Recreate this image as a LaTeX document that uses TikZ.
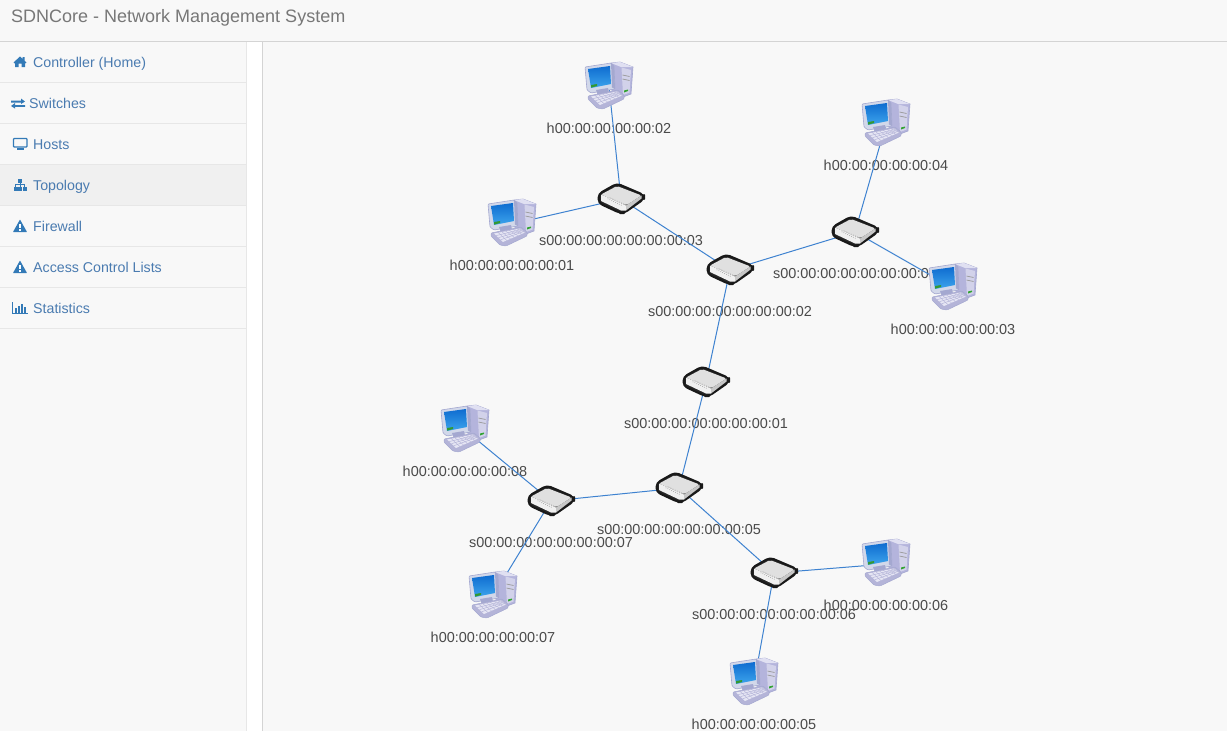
\documentclass[tikz,border=0pt]{standalone}
\usepackage{fontspec}
\setmainfont{Liberation Sans}
\definecolor{bgc}{HTML}{F8F8F8}
\definecolor{linec}{HTML}{E7E7E7}
\definecolor{bordc}{HTML}{D4D4D4}
\definecolor{navc}{HTML}{4A7BB0}
\definecolor{icoc}{HTML}{337AB7}
\definecolor{headc}{HTML}{777777}
\definecolor{linkc}{HTML}{3E82D0}
\definecolor{labc}{HTML}{4A4A4A}
\definecolor{towerc}{HTML}{B4B4DC}
\definecolor{towerl}{HTML}{E0E0F2}
\definecolor{towerf}{HTML}{D2D2EA}
\definecolor{monc}{HTML}{D2D8EA}
\definecolor{mond}{HTML}{A4A8D0}
\definecolor{scrt}{HTML}{0F6CD0}
\definecolor{scrb}{HTML}{3CA4EC}
\definecolor{keyc}{HTML}{B4B4D8}
\definecolor{keyl}{HTML}{E6E6F4}
\tikzset{
 x=1pt,y=-1pt,
 anchorpt/.style={inner sep=0pt,minimum size=0pt},
 lab/.style={font=\fontsize{14.45}{16}\selectfont,text=labc,inner sep=0pt,anchor=base},
 navtext/.style={font=\fontsize{14.2}{16}\selectfont,text=navc,inner sep=0pt,anchor=base west},
 headt/.style={font=\fontsize{18}{20}\selectfont,text=headc,inner sep=0pt,anchor=base west},
 link/.style={draw=linkc,line width=1pt},
 sep/.style={draw=linec,line width=1pt},
 ico/.style={fill=icoc,draw=none},
 pics/swicon/.style={code={
  \filldraw[fill=black!85,draw=black!90,line width=2pt,rounded corners=4pt,line join=round] (-22.5,-5)--(-4,-15.5)--(23,-4)--(23,0)--(3,14)--(-1,14)--(-22.5,4)--cycle;
  \fill[white!88!black,rounded corners=2pt] (-20,-4.5)--(-4,-13)--(20.5,-3.5)--(5,6.5)--cycle;
  \fill[white!94!black] (-20,-4.5)--(5,6.5)--(5,11.5)--(0,11.5)--(-20,2)--cycle;
  \fill[white!78!black] (5,6.5)--(20.5,-3.5)--(20.5,-.5)--(5,11.5)--cycle;
  \foreach \i in {0,...,7}{\fill[black!35] (-13+\i*1.9,-.2+\i*.9) circle(.5);\fill[black!35] (-11+\i*1.9,-1.5+\i*.9) circle(.45);}
 }},
 pics/hosticon/.style={code={
  % tower
  \filldraw[fill=towerc,draw=mond,line width=.6pt] (2,-24)--(11,-25)--(24,-20)--(22,7)--(14,10)--(3,6)--cycle;
  \fill[towerl] (2,-24)--(11,-25)--(24,-20)--(12,-20)--cycle;
  \fill[towerf] (12.5,-19.5)--(22,-17)--(20.5,5.5)--(14,8)--cycle;
  \draw[black!40,line width=.7pt] (13.5,-12)--(20.5,-10.5) (13.5,-8)--(20.5,-6.5);
  \fill[green!55!black!80] (15,3.5)--(19,2.5)--(19,4)--(15,5.5)--cycle;
  % monitor
  \filldraw[fill=monc,draw=mond,line width=.6pt,rounded corners=1pt] (-24,-20)--(2,-24)--(5,-21)--(6,2)--(-18,6)--(-22,3)--cycle;
  \fill[mond] (2,-24)--(5,-21)--(6,2)--(3,.5)--cycle;
  \shade[top color=scrt,bottom color=scrb] (-21,-18)--(1,-21)--(2,-3)--(-18,1)--cycle;
  \fill[green!50!black!80] (-18,-2)--(-12,-3)--(-12,-1)--(-18,.7)--cycle;
  % stand
  \fill[mond] (-13,3)--(-1,1)--(0,6)--(-11,9)--cycle;
  % keyboard
  \filldraw[fill=keyc,draw=mond,line width=.5pt,rounded corners=1pt] (-21,9)--(9,3)--(15,8)--(15,12)--(-6,22)--(-12,21)--(-21,12)--cycle;
  \fill[keyl] (-18,9.5)--(8,4.5)--(13,8.5)--(-9,18)--cycle;
  \foreach \i in {1,2,3}{\draw[keyc,line width=.5pt] (-18+\i*2.2,9.5+\i*2.1)--(8+\i*1.25,4.5+\i*1);}
  \foreach \i in {1,...,6}{\draw[keyc,line width=.4pt] (-18+\i*3.7,8.8+\i*-.7)--(-9+\i*3.7,18+\i*-1.6);}
 }},
}
\begin{document}
\begin{tikzpicture}
\useasboundingbox (0,0) rectangle (1227,731);
\fill[white] (0,0) rectangle (1227,731);
\fill[bgc] (0,0) rectangle (1227,41);
\fill[bgc] (0,42) rectangle (246,731);
\fill[bgc] (263,42) rectangle (1227,731);
\fill[black!6] (0,165) rectangle (246,205);
\draw[bordc,line width=1pt] (0,41.5)--(1227,41.5);
\draw[linec,line width=1pt] (246.5,42)--(246.5,731);
\draw[bordc,line width=1pt] (262.5,42)--(262.5,731);
\foreach \yy in {82.5,123.5,164.5,205.5,246.5,287.5,328.5}{\draw[sep] (0,\yy)--(246,\yy);}
\node[headt] (title) at (11,22) {SDNCore - Network Management System};
\node[navtext] (n1) at (33,67) {Controller (Home)};
\node[navtext] (n2) at (29,108) {Switches};
\node[navtext] (n3) at (33,149) {Hosts};
\node[navtext] (n4) at (33,190) {Topology};
\node[navtext] (n5) at (33,231) {Firewall};
\node[navtext] (n6) at (33,272) {Access Control Lists};
\node[navtext] (n7) at (33,313) {Statistics};
% nav icons
\fill[ico] (13.5,62.5)--(20,56.5)--(22.5,58.8)--(22.5,57)--(24.5,57)--(24.5,60.6)--(26.5,62.5)--(25,63.5)--(25,67)--(21.5,67)--(21.5,63.5)--(18.5,63.5)--(18.5,67)--(15,67)--(15,63.5)--cycle;
\fill[ico] (11,100.5)--(21,100.5)--(21,98.5)--(25,101.5)--(21,104)--(21,102.5)--(11,102.5)--cycle;
\fill[ico] (25,105)--(15,105)--(15,103)--(11,106)--(15,108.5)--(15,106.8)--(25,106.8)--cycle;
\draw[icoc,line width=1.2pt,rounded corners=.8pt] (13.5,138.5) rectangle (27,147);
\fill[ico] (17,147.5) rectangle (24,149.5);
\fill[ico] (18,179) rectangle (22,183);
\fill[ico] (13.5,187) rectangle (17.5,191);
\fill[ico] (18,187) rectangle (22,191);
\fill[ico] (22.5,187) rectangle (26.5,191);
\draw[icoc,line width=.8pt] (15.5,187)--(15.5,184.7)--(24.5,184.7)--(24.5,187) (20,183)--(20,187);
\fill[ico,rounded corners=.5pt] (13,232)--(20,219.5)--(27,232)--cycle;
\fill[white] (19.2,224) rectangle (20.8,228.2);
\fill[white] (19.2,229) rectangle (20.8,230.6);
\fill[ico,rounded corners=.5pt] (13,273)--(20,260.5)--(27,273)--cycle;
\fill[white] (19.2,265) rectangle (20.8,269.2);
\fill[white] (19.2,270) rectangle (20.8,271.6);
\draw[icoc,line width=.8pt] (12.5,302)--(12.5,313.5)--(27.5,313.5);
\fill[ico] (15,308) rectangle (16.6,312.5);
\fill[ico] (18,305.5) rectangle (19.6,312.5);
\fill[ico] (21,303.5) rectangle (22.6,312.5);
\fill[ico] (24,306.5) rectangle (25.6,312.5);
% topology nodes
\foreach \nm/\px/\py/\txt in {
 s3/621/199/s00:00:00:00:00:00:00:03, s2/730/270/s00:00:00:00:00:00:00:02,
 s4/855/232/s00:00:00:00:00:00:00:04, s1/706/382/s00:00:00:00:00:00:00:01,
 s5/679/488/s00:00:00:00:00:00:00:05, s7/551/501/s00:00:00:00:00:00:00:07,
 s6/774/573/s00:00:00:00:00:00:00:06,
 h2/609/87/h00:00:00:00:00:02, h1/512/224/h00:00:00:00:00:01,
 h4/886/124/h00:00:00:00:00:04, h3/953/288/h00:00:00:00:00:03,
 h8/465/430/h00:00:00:00:00:08, h7/493/596/h00:00:00:00:00:07,
 h6/886/564/h00:00:00:00:00:06, h5/754/683/h00:00:00:00:00:05}{
 \node[anchorpt] (\nm) at (\px,\py) {};
 \node[lab] (\nm l) at (\px,\py+46) {\txt};
}
\foreach \a/\b in {h2/s3,h1/s3,s3/s2,s2/s4,s4/h4,s4/h3,s2/s1,s1/s5,s5/s7,s7/h8,s7/h7,s5/s6,s6/h6,s6/h5}{
 \draw[link] (\a.center)--(\b.center);
}
\foreach \nm in {s3,s2,s4,s1,s5,s7,s6}{\pic at (\nm) {swicon};}
\foreach \nm in {h2,h1,h4,h3,h8,h7,h6,h5}{\pic at (\nm) {hosticon};}
\end{tikzpicture}
\end{document}
